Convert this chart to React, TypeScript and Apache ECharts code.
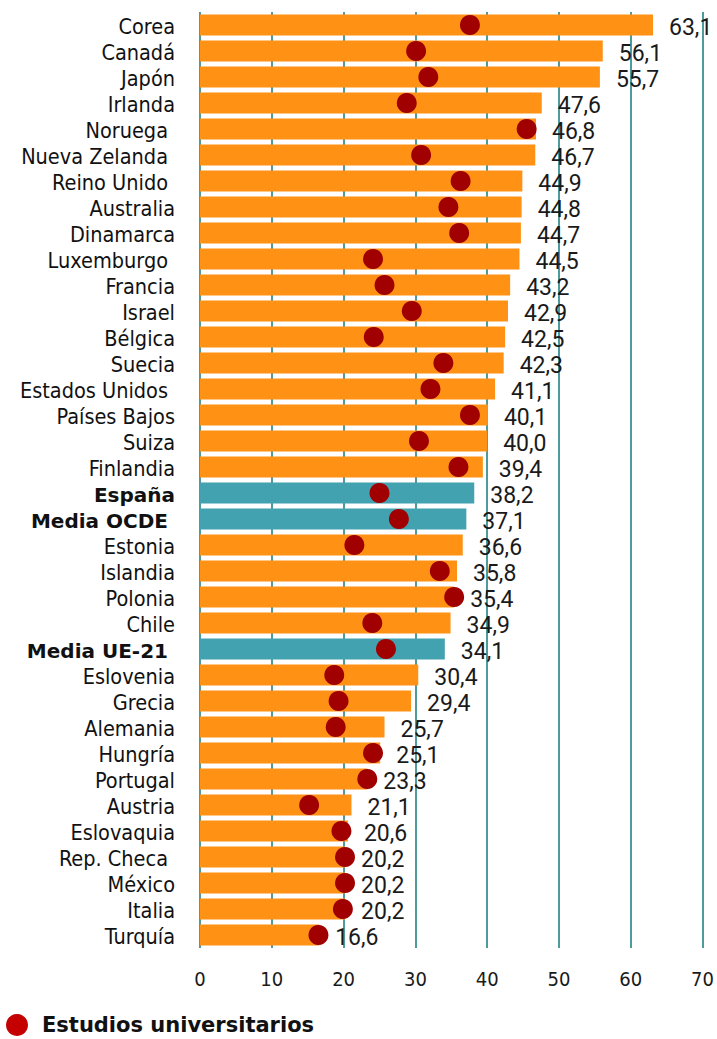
import React, { useEffect, useRef } from "react";
import * as echarts from "echarts";

const categories = [
  "Corea", "Canadá", "Japón", "Irlanda", "Noruega", "Nueva Zelanda", "Reino Unido",
  "Australia", "Dinamarca", "Luxemburgo", "Francia", "Israel", "Bélgica", "Suecia",
  "Estados Unidos", "Países Bajos", "Suiza", "Finlandia", "España", "Media OCDE",
  "Estonia", "Islandia", "Polonia", "Chile", "Media UE-21", "Eslovenia", "Grecia",
  "Alemania", "Hungría", "Portugal", "Austria", "Eslovaquia", "Rep. Checa", "México",
  "Italia", "Turquía",
];

const barValues = [
  63.1, 56.1, 55.7, 47.6, 46.8, 46.7, 44.9, 44.8, 44.7, 44.5, 43.2, 42.9, 42.5, 42.3,
  41.1, 40.1, 40.0, 39.4, 38.2, 37.1, 36.6, 35.8, 35.4, 34.9, 34.1, 30.4, 29.4, 25.7,
  25.1, 23.3, 21.1, 20.6, 20.2, 20.2, 20.2, 16.6,
];

const universityValues = [
  37.6, 30.1, 31.8, 28.8, 45.5, 30.8, 36.3, 34.6, 36.1, 24.1, 25.7, 29.5, 24.2, 33.9,
  32.1, 37.6, 30.5, 36.0, 25.0, 27.7, 21.5, 33.4, 35.4, 24.0, 25.9, 18.7, 19.3, 18.9,
  24.1, 23.3, 15.2, 19.7, 20.2, 20.2, 19.9, 16.5,
];

const highlighted = ["España", "Media OCDE", "Media UE-21"];
const trailingGap = [
  "Noruega", "Nueva Zelanda", "Reino Unido", "Luxemburgo", "Estados Unidos",
  "Media OCDE", "Media UE-21", "Rep. Checa",
];
const xTicks = [0, 10, 20, 30, 40, 50, 60, 70];
const legendLabel = "Estudios universitarios";

const ORANGE = "#FF9214";
const TEAL = "#43A2AF";
const DOT = "#A10000";
const LEGEND_DOT = "#C40000";
const GRID = "#137A7E";
const COND_FONT = "'DejaVu Sans Condensed', 'DejaVu Sans', sans-serif";
const WIDE_FONT = "'DejaVu Sans', sans-serif";

export default function App() {
  const ref = useRef<HTMLDivElement>(null);
  useEffect(() => {
    if (!ref.current) return;
    const chart = echarts.init(ref.current, undefined, { renderer: "svg" });
    chart.setOption({
      animation: false,
      backgroundColor: "#ffffff",
      grid: { left: 200, right: 13, top: 12, height: 936, containLabel: false },
      legend: {
        left: 6,
        top: 1014,
        padding: 0,
        icon: "circle",
        itemWidth: 22,
        itemHeight: 22,
        data: [{ name: legendLabel, itemStyle: { color: LEGEND_DOT } }],
        textStyle: {
          fontFamily: WIDE_FONT,
          fontWeight: "bold",
          fontSize: 21,
          color: "#111",
          padding: [2, 0, 0, 9],
        },
      },
      xAxis: {
        type: "value",
        min: xTicks[0],
        max: xTicks[xTicks.length - 1],
        interval: 10,
        axisLine: { show: false },
        axisTick: { show: false },
        axisLabel: {
          margin: 21,
          fontFamily: COND_FONT,
          fontSize: 20,
          color: "#1a1a1a",
        },
        splitLine: { show: true, lineStyle: { color: GRID, width: 1.5 } },
      },
      yAxis: {
        type: "category",
        inverse: true,
        data: categories,
        axisLine: { show: false },
        axisTick: { show: false },
        axisLabel: {
          margin: 25,
          formatter: (v: string) => {
            const bold = highlighted.includes(v);
            const gap = trailingGap.includes(v);
            const key = (bold ? "b" : "n") + (gap ? "g" : "");
            return `{${key}|${v}}`;
          },
          rich: {
            n: { fontFamily: COND_FONT, fontSize: 21.5, color: "#111", padding: [3, 0, 0, 0] },
            ng: { fontFamily: COND_FONT, fontSize: 21.5, color: "#111", padding: [3, 7, 0, 0] },
            b: { fontFamily: WIDE_FONT, fontSize: 20, fontWeight: "bold", color: "#111", padding: [3, 0, 0, 0] },
            bg: { fontFamily: WIDE_FONT, fontSize: 20, fontWeight: "bold", color: "#111", padding: [3, 7, 0, 0] },
          },
        },
      },
      series: [
        {
          type: "bar",
          name: "Total",
          barCategoryGap: "20%",
          data: barValues.map((v, i) => ({
            value: v,
            itemStyle: { color: highlighted.includes(categories[i]) ? TEAL : ORANGE },
          })),
          label: {
            show: true,
            position: "right",
            distance: 16,
            offset: [0, 2],
            fontFamily: "Roboto, sans-serif",
            fontSize: 23,
            color: "#1a1a1a",
            formatter: (p: any) => Number(p.value).toFixed(1).replace(".", ","),
          },
          z: 2,
        },
        {
          type: "scatter",
          name: legendLabel,
          data: universityValues.map((v, i) => [v, categories[i]]),
          symbol: "circle",
          symbolSize: 20,
          itemStyle: { color: DOT, opacity: 1 },
          z: 3,
        },
      ],
    });
    return () => chart.dispose();
  }, []);
  return (
    <div
      ref={ref}
      style={{ position: "fixed", left: 0, top: 0, width: 717, height: 1039 }}
    />
  );
}
